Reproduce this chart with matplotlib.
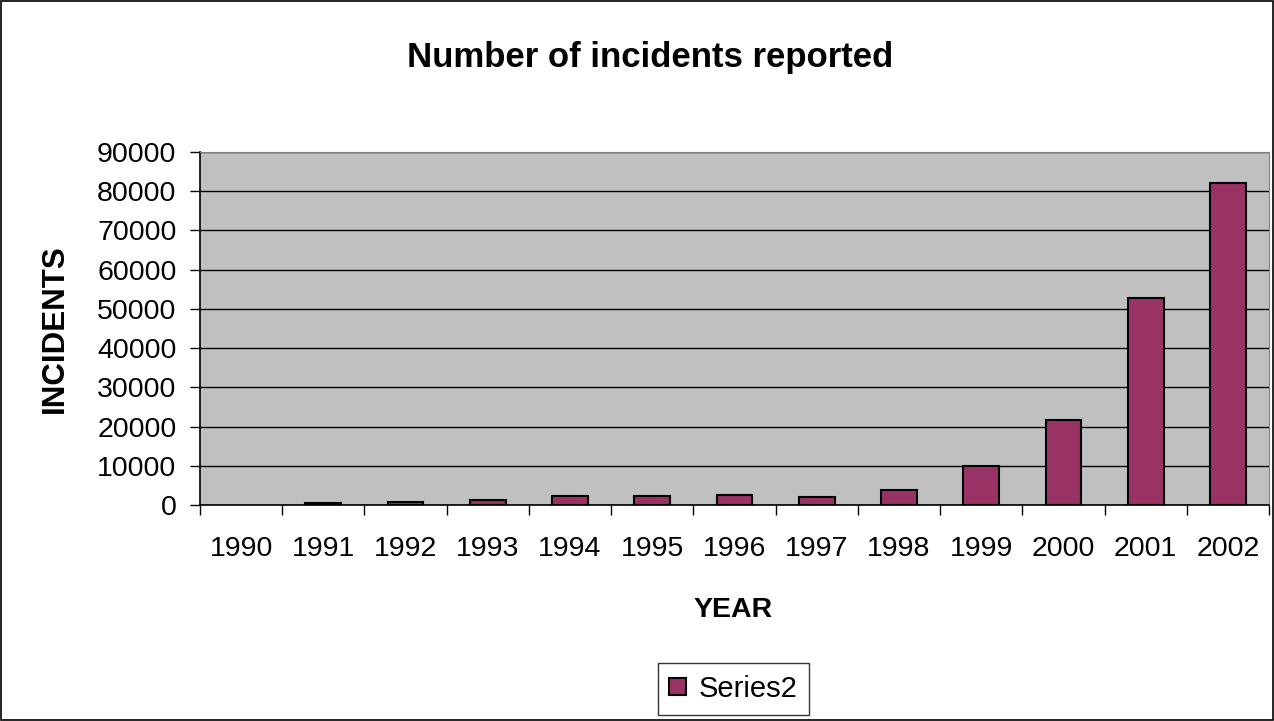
import numpy as np
import matplotlib.pyplot as plt
from matplotlib.patches import Rectangle

plt.rcParams['font.family'] = ['Liberation Sans', 'DejaVu Sans']

# incidents reported per year (no bar drawn for 1990)
years = ['1990', '1991', '1992', '1993', '1994', '1995', '1996',
         '1997', '1998', '1999', '2000', '2001', '2002']
incidents = [0, 406, 773, 1334, 2340, 2412, 2573, 2134, 3734,
             9859, 21756, 52658, 82094]

W, H = 1274, 721
fig = plt.figure(figsize=(W / 100, H / 100), dpi=100)
fig.patch.set_facecolor('white')
# outer frame round the whole chart
fig.patches.append(Rectangle((0.001, 0.001), 0.998, 0.997, transform=fig.transFigure,
                             fill=False, edgecolor='black', linewidth=1.2))

ax = fig.add_axes([200 / W, 1 - 505 / H, 1069 / W, 353 / H])
ax.set_facecolor('#c0c0c0')

x = np.arange(len(years))
heights = np.array(incidents, dtype=float)
shown = heights > 0
ax.bar(x[shown], heights[shown], width=0.435, color='#993366', edgecolor='black',
       linewidth=1.5, label='Series2', zorder=3)

ax.set_xlim(-0.5, len(years) - 0.5)
ax.set_ylim(0, 90000)
ax.set_yticks(np.arange(0, 90001, 10000))
ax.yaxis.grid(True, color='black', linewidth=1)
ax.set_axisbelow(True)

# category ticks sit on the boundaries between years
ax.set_xticks(np.arange(-0.5, len(years), 1.0))
ax.set_xticklabels([])
ax.set_xticks(x, minor=True)
ax.set_xticklabels(years, minor=True)
ax.tick_params(axis='x', which='major', length=7, width=1, direction='out')
ax.tick_params(axis='x', which='minor', length=0, pad=22, labelsize=20.5)
ax.tick_params(axis='y', length=7, width=1, direction='out', labelsize=20.5, pad=10)

for side in ['top', 'right']:
    ax.spines[side].set_color('#808080')
for side in ['left', 'bottom']:
    ax.spines[side].set_color('black')
    ax.spines[side].set_linewidth(1.2)

fig.text(650 / W, 1 - 67 / H, 'Number of incidents reported', fontsize=25,
         fontweight='bold', ha='center', va='baseline')
fig.text(733 / W, 1 - 617 / H, 'YEAR', fontsize=20.5, fontweight='bold',
         ha='center', va='baseline')
fig.text(55 / W, 1 - 329 / H, 'INCIDENTS', fontsize=22.5, fontweight='bold',
         rotation=90, ha='center', va='center')

leg = ax.legend(loc='center', bbox_to_anchor=(733.5 / W, 1 - 689 / H),
                bbox_transform=fig.transFigure, fontsize=21, frameon=True,
                fancybox=False, edgecolor='black', handlelength=0.55,
                handleheight=0.55, handletextpad=0.45, borderpad=0.4)
leg.get_frame().set_linewidth(1)

fig.savefig('out.png', dpi=100)
